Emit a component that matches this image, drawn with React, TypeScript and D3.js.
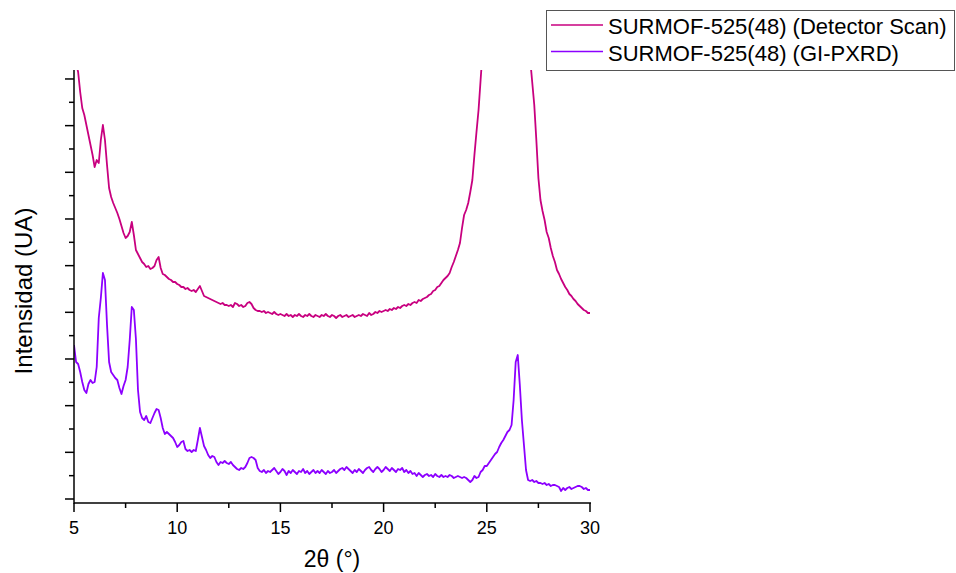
import React from "react";
import * as d3 from "d3";

// 2θ sampling (degrees): 5.0 → 30.0 in 0.1° steps
const THETA_START = 5;
const THETA_STEP = 0.1;

// SURMOF-525(48) (Detector Scan) intensities (a.u.), one per 0.1° from 5.0° to 30.0°
const detectorScan = [
  444, 436, 427, 407, 391, 384, 374, 364, 354, 344,
  332, 339, 336, 359, 374, 359, 334, 311, 302, 296,
  291, 286, 280, 273, 266, 261, 263, 267, 277, 264,
  249, 245, 241, 237, 235, 232, 233, 230, 231, 233,
  239, 242, 231, 225, 224, 222, 220, 219, 217, 217,
  215, 214, 212, 212, 210, 211, 209, 208, 209, 207,
  210, 213, 208, 203, 202, 201, 200, 199, 198, 197,
  196, 195, 196, 194, 194, 193, 194, 192, 196, 195,
  193, 194, 192, 193, 196, 197, 195, 191, 189, 188,
  188, 187, 188, 186, 187, 186, 185, 187, 185, 184,
  185, 184, 183, 185, 183, 184, 182, 184, 183, 185,
  183, 182, 184, 183, 185, 183, 182, 184, 183, 182,
  184, 183, 185, 183, 182, 184, 183, 181, 183, 184,
  182, 183, 184, 182, 183, 184, 182, 183, 184, 183,
  185, 184, 183, 186, 184, 185, 187, 186, 188, 187,
  188, 189, 188, 190, 189, 191, 190, 192, 191, 193,
  194, 193, 195, 194, 196, 197, 196, 199, 198, 200,
  201, 202, 204, 205, 208, 209, 212, 213, 216, 219,
  221, 223, 226, 232, 237, 243, 249, 256, 271, 284,
  289, 296, 307, 319, 344, 367, 389, 419, 449, 479,
  519, 580, 650, 730, 820, 920, 1040, 1180, 1330, 1480,
  1600, 1650, 1600, 1480, 1330, 1180, 1020, 870, 730, 610,
  470, 440, 417, 394, 359, 321, 299, 288, 279, 267,
  261, 251, 243, 237, 229, 225, 220, 216, 212, 209,
  205, 203, 200, 198, 195, 193, 191, 189, 188, 186,
  186,
];

// SURMOF-525(48) (GI-PXRD) intensities (a.u.), one per 0.1° from 5.0° to 30.0°
const giPxrd = [
  154, 137, 135, 127, 117, 109, 106, 115, 119, 116,
  117, 132, 181, 201, 226, 219, 174, 137, 127, 124,
  121, 119, 111, 105, 113, 119, 132, 159, 192, 189,
  160, 109, 87, 81, 79, 83, 77, 76, 81, 86,
  90, 89, 81, 71, 65, 67, 65, 63, 61, 57,
  52, 54, 57, 58, 50, 48, 49, 47, 49, 48,
  59, 71, 62, 53, 49, 44, 41, 43, 42, 37,
  34, 37, 36, 38, 36, 35, 37, 34, 32, 30,
  29, 31, 30, 32, 36, 41, 42, 41, 39, 31,
  28, 27, 29, 26, 28, 27, 29, 31, 28, 25,
  27, 30, 28, 24, 28, 26, 29, 27, 25, 28,
  27, 30, 26, 28, 25, 27, 29, 26, 28, 26,
  29, 27, 25, 28, 26, 27, 29, 26, 28, 30,
  31, 29, 32, 30, 28, 26, 29, 27, 30, 28,
  26, 29, 31, 32, 29, 27, 30, 32, 30, 27,
  29, 32, 30, 28, 31, 29, 27, 30, 29, 31,
  27, 29, 26, 28, 25, 26, 23, 26, 24, 22,
  24, 25, 23, 24, 22, 25, 23, 22, 24, 22,
  23, 22, 24, 23, 21, 22, 23, 22, 21, 22,
  21, 19, 17, 19, 23, 21, 22, 27, 29, 33,
  33, 36, 39, 42, 45, 47, 52, 56, 59, 63,
  67, 69, 74, 99, 137, 144, 114, 79, 54, 29,
  19, 18, 19, 17, 18, 16, 16, 15, 16, 14,
  15, 13, 14, 14, 13, 12, 8, 11, 9, 11,
  12, 10, 11, 12, 13, 13, 12, 10, 11, 9,
  9,
];

const seriesNames = [
  "SURMOF-525(48) (Detector Scan)",
  "SURMOF-525(48) (GI-PXRD)",
];
const seriesColors = ["#c8007f", "#8c00ff"];

const xTicksMajor = [5, 10, 15, 20, 25, 30];
const xTicksMinor = [7.5, 12.5, 17.5, 22.5, 27.5];
const yDomain = [-4, 429];
const yMajorStep = 46.67;
const yMajorCount = 10;

const xLabel = "2θ (°)";
const yLabel = "Intensidad (UA)";

const FONT = "'Liberation Sans', Arial, sans-serif";

export default function App() {
  const W = 956;
  const H = 573;
  const left = 74, right = 590, top = 70, bottom = 503;

  const x = d3.scaleLinear().domain([5, 30]).range([left, right]);
  const y = d3.scaleLinear().domain(yDomain).range([bottom, top]);

  const toPts = (vals: number[]) =>
    vals.map((v, i) => [THETA_START + i * THETA_STEP, v] as [number, number]);

  const line = d3
    .line<[number, number]>()
    .x((d) => x(d[0]))
    .y((d) => y(d[1]));

  const series = [detectorScan, giPxrd];

  const yMajor = d3.range(yMajorCount).map((k) => k * yMajorStep);
  const yMinor = d3.range(yMajorCount - 1).map((k) => (k + 0.5) * yMajorStep);

  return (
    <svg
      width={W}
      height={H}
      style={{ position: "absolute", left: 0, top: 0, background: "#fff" }}
      fontFamily={FONT}
    >
      <defs>
        <clipPath id="plotClip">
          <rect x={left} y={top} width={right - left} height={bottom - top} />
        </clipPath>
      </defs>

      <g clipPath="url(#plotClip)">
        {series.map((vals, i) => (
          <path
            key={i}
            d={line(toPts(vals)) || ""}
            fill="none"
            stroke={seriesColors[i]}
            strokeWidth={1.8}
            strokeLinejoin="round"
          />
        ))}
      </g>

      {/* x axis */}
      <line x1={left} x2={right + 1} y1={bottom} y2={bottom} stroke="#000" strokeWidth={1.5} />
      {xTicksMajor.map((t) => (
        <g key={"xM" + t}>
          <line x1={x(t)} x2={x(t)} y1={bottom} y2={bottom + 9} stroke="#000" strokeWidth={1.5} />
          <text x={x(t)} y={534} textAnchor="middle" fontSize={18} fill="#000">
            {t}
          </text>
        </g>
      ))}
      {xTicksMinor.map((t) => (
        <line key={"xm" + t} x1={x(t)} x2={x(t)} y1={bottom} y2={bottom + 5} stroke="#000" strokeWidth={1.5} />
      ))}
      <text x={(left + right) / 2} y={567} textAnchor="middle" fontSize={23} fill="#000">
        {xLabel}
      </text>

      {/* y axis */}
      <line x1={left} x2={left} y1={top} y2={bottom + 0.75} stroke="#000" strokeWidth={1.5} />
      {yMajor.map((t, i) => (
        <line key={"yM" + i} x1={left - 9} x2={left} y1={y(t)} y2={y(t)} stroke="#000" strokeWidth={1.5} />
      ))}
      {yMinor.map((t, i) => (
        <line key={"ym" + i} x1={left - 5} x2={left} y1={y(t)} y2={y(t)} stroke="#000" strokeWidth={1.5} />
      ))}
      <text
        transform={`translate(32, 291) rotate(-90)`}
        textAnchor="middle"
        fontSize={24}
        fill="#000"
      >
        {yLabel}
      </text>

      {/* legend */}
      <rect x={546.5} y={10.5} width={408} height={60} fill="#fff" stroke="#555" strokeWidth={1} />
      {seriesNames.map((name, i) => (
        <g key={name}>
          <line
            x1={551}
            x2={603}
            y1={25 + i * 26.5}
            y2={25 + i * 26.5}
            stroke={seriesColors[i]}
            strokeWidth={1.6}
          />
          <text x={608} y={34 + i * 26.5} fontSize={22} fill="#000">
            {name}
          </text>
        </g>
      ))}
    </svg>
  );
}
